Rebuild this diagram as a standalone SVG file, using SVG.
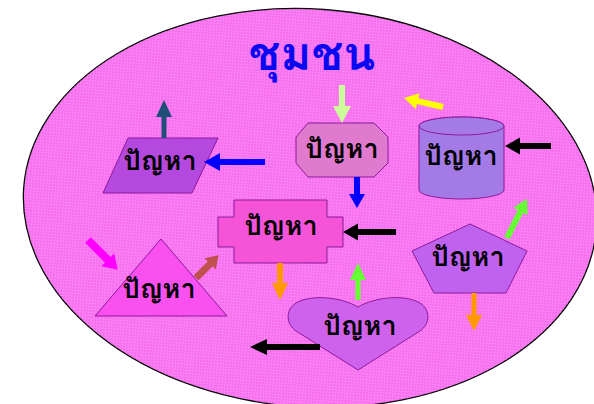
<svg xmlns="http://www.w3.org/2000/svg" width="594" height="404" viewBox="0 0 594 404">
<style>
.lbl{font-family:"Loma","Garuda","Tahoma","Noto Sans Thai Looped","Noto Sans Thai","Noto Sans",sans-serif;font-weight:bold;font-size:27px;fill:#000;text-anchor:middle}
.ttl{font-family:"Loma","Garuda","Tahoma","Noto Sans Thai Looped","Noto Sans Thai","Noto Sans",sans-serif;font-weight:bold;font-size:47px;fill:#0a0af0;text-anchor:middle}
.shp{stroke:#8b1a9b;stroke-width:1}
</style>
<defs>
<pattern id="mesh" width="3" height="3" patternUnits="userSpaceOnUse">
<path d="M0,0.5H3M0.5,0V3" stroke="#ffffff" stroke-opacity="0.12" stroke-width="1"/>
</pattern>
</defs>
<g id="community">
<ellipse cx="310" cy="208" rx="287" ry="199" transform="rotate(4 310 208)" fill="#f86cf0" stroke="#000" stroke-width="1.3"/>
<ellipse cx="310" cy="208" rx="287" ry="199" transform="rotate(4 310 208)" fill="url(#mesh)"/>
<text class="ttl" x="312" y="70">ชุมชน</text>
</g>
<g id="n-parallelogram">
<polygon class="shp" points="128,138 218,138 192,193 103,193" fill="#b548de"/>
<text class="lbl" x="160" y="170">ปัญหา</text>
</g>
<g id="n-octagon">
<polygon class="shp" points="308,123 374,123 388,137 388,163 374,177 308,177 296,163 296,137" fill="#e07ace"/>
<text class="lbl" x="342" y="158">ปัญหา</text>
</g>
<g id="n-cylinder">
<path class="shp" d="M419,126 V190 A42.5,9 0 0 0 504,190 V126 A42.5,9 0 0 0 419,126 Z" fill="#a37ae6"/>
<ellipse class="shp" cx="461.5" cy="126" rx="42.5" ry="9" fill="#a37ae6"/>
<text class="lbl" x="461" y="165">ปัญหา</text>
</g>
<g id="n-cross">
<polygon class="shp" points="234,200 327,200 327,217 343,217 343,247 327,247 327,263 234,263 234,247 218,247 218,217 234,217" fill="#f553d8"/>
<text class="lbl" x="281" y="235">ปัญหา</text>
</g>
<g id="n-triangle">
<polygon class="shp" points="161,239 227,316 95,316" fill="#fb50f0"/>
<text class="lbl" x="159" y="298">ปัญหา</text>
</g>
<g id="n-heart">
<path class="shp" d="M358,307 C375,297 405,294 420,303 C431,310 430,324 420,331 L358,370 L296,331 C286,324 285,310 296,303 C311,294 341,297 358,307 Z" fill="#cf62ec"/>
<text class="lbl" x="360" y="335">ปัญหา</text>
</g>
<g id="n-pentagon">
<polygon class="shp" points="470,224 527,251 506,293 434,293 412,251" fill="#c062f0"/>
<text class="lbl" x="468" y="266">ปัญหา</text>
</g>
<g id="connectors">
<path fill="#1f4e79" transform="translate(164,138) rotate(-90)" d="M0,-2.5H21V-8L38,0L21,8V2.5H0Z"/>
<path fill="#0000ff" transform="translate(265,162) rotate(180)" d="M0,-3H45V-9L61,0L45,9V3H0Z"/>
<path fill="#ccff99" transform="translate(342,85) rotate(90)" d="M0,-3H21V-9L38,0L21,9V3H0Z"/>
<path fill="#0000ff" transform="translate(357,177) rotate(90)" d="M0,-3H17V-8L31,0L17,8V3H0Z"/>
<path fill="#ffff00" transform="translate(443,107) rotate(-167)" d="M0,-3H26V-8L40,0L26,8V3H0Z"/>
<path fill="#000000" transform="translate(551,146) rotate(180)" d="M0,-3H31V-8.5L46,0L31,8.5V3H0Z"/>
<path fill="#000000" transform="translate(396,232) rotate(180)" d="M0,-3H38V-8.5L53,0L38,8.5V3H0Z"/>
<path fill="#ff9900" transform="translate(280,263) rotate(90)" d="M0,-3H20V-8L37,0L20,8V3H0Z"/>
<path fill="#ff00ff" transform="translate(88,240) rotate(45)" d="M0,-4H28V-9L42,0L28,9V4H0Z"/>
<path fill="#c0504d" transform="translate(196,278) rotate(-45)" d="M0,-3.5H20V-8L32,0L20,8V3.5H0Z"/>
<path fill="#66ff33" transform="translate(358,300) rotate(-90)" d="M0,-2.5H20V-8L37,0L20,8V2.5H0Z"/>
<path fill="#000000" transform="translate(320,347) rotate(180)" d="M0,-3H53V-8L70,0L53,8V3H0Z"/>
<path fill="#66ff33" transform="translate(507,238) rotate(-63)" d="M0,-3H30V-8L44,0L30,8V3H0Z"/>
<path fill="#ff9900" transform="translate(474,293) rotate(90)" d="M0,-2.5H22V-8L38,0L22,8V2.5H0Z"/>
</g>
</svg>
